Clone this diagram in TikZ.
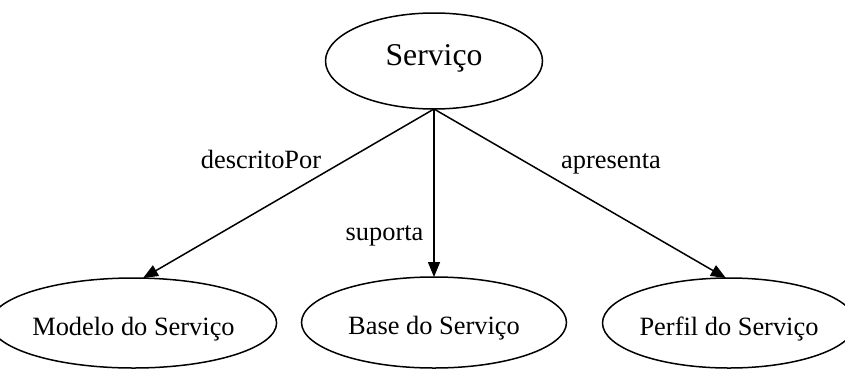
\documentclass[tikz,border=0pt]{standalone}
\usepackage{fontspec}
\setmainfont{Liberation Serif}
\usetikzlibrary{shapes.geometric,arrows.meta}
\begin{document}
\begin{tikzpicture}[x=1pt,y=-1pt,
  every node/.style={inner sep=0pt, outer sep=0pt},
  ent/.style={draw, ellipse, line width=1.5pt, font=\fontsize{26.4}{30}\selectfont, text height=24pt, text depth=0pt},
  topent/.style={draw, ellipse, line width=1.5pt, font=\fontsize{31.7}{36}\selectfont, text height=12pt, text depth=4pt},
  rel/.style={line width=1.5pt, -{Triangle[length=15pt,width=12pt]}},
  lbl/.style={anchor=base, font=\fontsize{26.4}{30}\selectfont}]
\useasboundingbox (0,0) rectangle (845,370);
\node[topent, minimum width=217pt, minimum height=96pt] (top) at (434,61) {Serviço};
\node[ent, minimum width=241pt, minimum height=90pt] (modelo) at (133.5,323) {Modelo do Serviço};
\node[ent, minimum width=265pt, minimum height=91pt] (base) at (434,322.5) {Base do Serviço};
\node[ent, minimum width=232pt, minimum height=90pt] (perfil) at (729,323) {Perfil do Serviço};
\draw[rel] (top.south) -- (modelo.78);
\draw[rel] (top.south) -- (base.north);
\draw[rel] (top.south) -- (perfil.94);
\node[lbl] (l1) at (261,168) {descritoPor};
\node[lbl] (l2) at (384.5,240) {suporta};
\node[lbl] (l3) at (611,168) {apresenta};
\end{tikzpicture}
\end{document}
